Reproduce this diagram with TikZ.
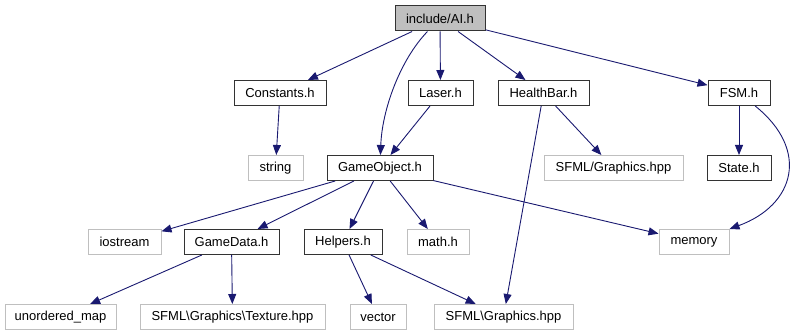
\documentclass[tikz,border=0pt]{standalone}
\usepackage{fontspec}
\setmainfont{Liberation Sans}
\usetikzlibrary{arrows.meta,positioning}
\definecolor{edgeblue}{HTML}{191970}
\definecolor{sysgray}{HTML}{BFBFBF}

\begin{document}
\begin{tikzpicture}[x=1pt,y=-1pt,
  file/.style={draw=black!80,line width=1pt,minimum height=25pt,inner sep=0pt,
    font=\fontsize{13}{15}\selectfont},
  sys/.style={file,draw=sysgray},
  dep/.style={-{Triangle[length=10pt,width=8pt]},edgeblue,line width=0.9pt}]
  \useasboundingbox (0,0) rectangle (793,336);

  % top: the file itself
  \node[file,fill=sysgray,minimum width=90pt] (ai) at (440,18.5) {include/AI.h};

  % direct includes
  \node[file,minimum width=92pt] (constants) at (280,93) {Constants.h};
  \node[file,minimum width=65pt] (laser) at (440.5,93) {Laser.h};
  \node[file,minimum width=91pt] (healthbar) at (543.5,93) {HealthBar.h};
  \node[file,minimum width=62pt] (fsm) at (739,93) {FSM.h};

  \node[sys,minimum width=55pt] (string) at (275.5,168) {string};
  \node[file,minimum width=106pt] (gameobject) at (380,168) {GameObject.h};
  \node[sys,minimum width=139pt] (sfmlslash) at (613.5,168) {SFML/Graphics.hpp};
  \node[file,minimum width=64pt] (state) at (739,168) {State.h};

  \node[sys,minimum width=73pt] (iostream) at (124.5,242) {iostream};
  \node[file,minimum width=95pt] (gamedata) at (231.5,242) {GameData.h};
  \node[file,minimum width=78pt] (helpers) at (343,242) {Helpers.h};
  \node[sys,minimum width=62pt] (math) at (438,242) {math.h};
  \node[sys,minimum width=70pt] (memory) at (694,242) {memory};

  \node[sys,minimum width=111pt] (umap) at (60.5,317) {unordered\_map};
  \node[sys,minimum width=185pt] (texture) at (232.5,317) {SFML\textbackslash Graphics\textbackslash Texture.hpp};
  \node[sys,minimum width=56pt] (vector) at (378,317) {vector};
  \node[sys,minimum width=139pt] (sfmlgfx) at (503.5,317) {SFML\textbackslash Graphics.hpp};

  % include edges
  \foreach \a/\b in {ai/constants, ai/laser, ai/healthbar, ai/fsm,
    constants/string, laser/gameobject, healthbar/sfmlslash, healthbar/sfmlgfx,
    fsm/state, gameobject/iostream, gameobject/gamedata, gameobject/helpers,
    gameobject/math, gameobject/memory, gamedata/umap, gamedata/texture,
    helpers/vector, helpers/sfmlgfx}
    \draw[dep] (\a) -- (\b);

  \draw[dep] (ai) .. controls (400,60) and (382,110) .. (gameobject);
  \draw[dep] (fsm) .. controls (810,150) and (795,205) .. (memory);
\end{tikzpicture}
\end{document}
